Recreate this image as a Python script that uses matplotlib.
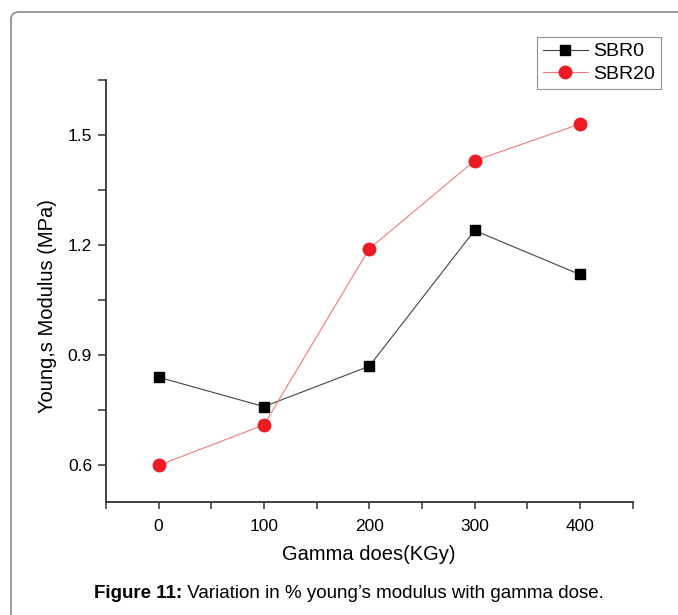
import numpy as np
import matplotlib.pyplot as plt
from matplotlib.patches import FancyBboxPatch

plt.rcParams['font.family'] = ['Liberation Sans', 'DejaVu Sans']

dose = [0, 100, 200, 300, 400]
sbr0 = [0.84, 0.76, 0.87, 1.24, 1.12]
sbr20 = [0.60, 0.71, 1.19, 1.43, 1.53]

fig = plt.figure(figsize=(6.78, 6.15), dpi=100)

# rounded frame, cut off by the right and bottom edges of the image
frame = FancyBboxPatch((11 / 678, -0.1), 1.2, 1.1 - 12 / 615,
                       boxstyle="round,pad=0,rounding_size=0.012",
                       transform=fig.transFigure, fill=False,
                       edgecolor='#8a8a8a', linewidth=1.2)
fig.add_artist(frame)

ax = fig.add_axes([106 / 678, 1 - 502 / 615, (632.5 - 106) / 678, (502 - 80) / 615])

ax.plot(dose, sbr0, color='#444444', lw=0.8, marker='s', ms=7.5,
        mfc='black', mec='black', label='SBR0', zorder=3)
ax.plot(dose, sbr20, color='#f47a7a', lw=0.8, marker='o', ms=9,
        mfc='#ec1c24', mec='#ec1c24', label='SBR20', zorder=3)

ax.set_xlim(-50, 450)
ax.set_ylim(0.5, 1.65)
ax.set_xticks([0, 100, 200, 300, 400])
ax.set_xticks([-50, 50, 150, 250, 350, 450], minor=True)
ax.set_yticks([0.6, 0.9, 1.2, 1.5])
ax.set_yticks([0.75, 1.05, 1.35, 1.65], minor=True)

for s in ['top', 'right']:
    ax.spines[s].set_visible(False)
for s in ['left', 'bottom']:
    ax.spines[s].set_color('#333333')
    ax.spines[s].set_linewidth(1.3)

ax.tick_params(which='both', direction='out', length=5, width=1.1,
               color='#333333', labelsize=12.5)
ax.tick_params(axis='y', which='both', length=6, pad=4)
ax.tick_params(axis='x', which='major', pad=7)

ax.set_xlabel('Gamma does(KGy)', fontsize=14.5, labelpad=8)
ax.set_ylabel('Young,s Modulus (MPa)', fontsize=14.5)
ax.yaxis.set_label_coords(-49 / 526.5, 0.464)

leg = ax.legend(loc='upper left', bbox_to_anchor=(537 / 678, 1 - 37 / 615),
                bbox_transform=fig.transFigure, fontsize=14, frameon=True,
                fancybox=False, edgecolor='#777777', borderpad=0.3,
                handlelength=2.3, handletextpad=0.3, labelspacing=0.25,
                borderaxespad=0)
leg.get_frame().set_linewidth(0.8)

# caption: bold prefix followed by plain text, centred as one line
cap_y = 1 - 594 / 615
t1 = fig.text(0, cap_y, 'Figure 11:', fontsize=13.5, fontweight='bold',
              va='center', ha='left')
t2 = fig.text(0, cap_y, ' Variation in % young\u2019s modulus with gamma dose.',
              fontsize=13.5, va='center', ha='left')
fig.canvas.draw()
w1 = t1.get_window_extent().width
w2 = t2.get_window_extent().width
x0 = 349 - (w1 + w2) / 2
t1.set_x(x0 / 678)
t2.set_x((x0 + w1) / 678)

fig.savefig('out.png', dpi=100)
